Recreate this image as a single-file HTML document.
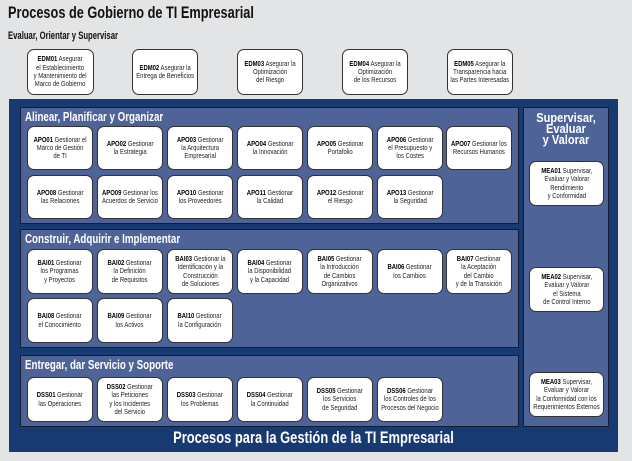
<!DOCTYPE html>
<html><head><meta charset="utf-8"><style>
*{margin:0;padding:0;box-sizing:border-box}
body{width:632px;height:461px;background:#e3e4e6;position:relative;overflow:hidden;font-family:"Liberation Sans",sans-serif}
.a{position:absolute}
.t{font-weight:bold;color:#111;white-space:nowrap;transform-origin:left top}
.box{position:absolute;background:#fff;border:1px solid #333;border-radius:7px;display:flex;align-items:center;justify-content:center;text-align:center;font-size:7.4px;line-height:8.3px;color:#222}
.box>div{white-space:nowrap;transform:scaleX(.8)}
.box b{color:#000}
.outer{left:9px;top:99px;width:609px;height:353px;background:#173a72}
.sec{position:absolute;background:#4e6499;border:1.5px solid #141c33}
.st{position:absolute;left:4px;top:2px;color:#fff;font-weight:bold;font-size:12.5px;white-space:nowrap;transform:scaleX(.78);transform-origin:left top}
</style></head><body>
<div class="a t" style="left:8px;top:3px;font-size:17px;transform:scaleX(.75)">Procesos de Gobierno de TI Empresarial</div>
<div class="a t" style="left:8px;top:30px;font-size:11px;transform:scaleX(.7)">Evaluar, Orientar y Supervisar</div>

<div class="box" style="left:27px;top:49px;width:67px;height:46px"><div><b>EDM01</b> Asegurar<br>el Establecimiento<br>y Mantenimiento del<br>Marco de Gobierno</div></div>
<div class="box" style="left:132px;top:49px;width:66px;height:46px"><div><b>EDM02</b> Asegurar la<br>Entrega de Beneficios</div></div>
<div class="box" style="left:237px;top:49px;width:66px;height:46px"><div><b>EDM03</b> Asegurar la<br>Optimización<br>del Riesgo</div></div>
<div class="box" style="left:342px;top:49px;width:66px;height:46px"><div><b>EDM04</b> Asegurar la<br>Optimización<br>de los Recursos</div></div>
<div class="box" style="left:447px;top:49px;width:66px;height:46px"><div><b>EDM05</b> Asegurar la<br>Transparencia hacia<br>las Partes Interesadas</div></div>

<div class="a outer"></div>
<div class="sec" style="left:20px;top:107px;width:499px;height:117px"><div class="st">Alinear, Planificar y Organizar</div></div>
<div class="sec" style="left:20px;top:229px;width:499px;height:119px"><div class="st">Construir, Adquirir e Implementar</div></div>
<div class="sec" style="left:20px;top:355px;width:499px;height:72px"><div class="st">Entregar, dar Servicio y Soporte</div></div>
<div class="sec" style="left:523px;top:107px;width:86px;height:320px"><div class="a" style="left:-10px;right:-10px;top:4px;text-align:center;color:#fff;font-weight:bold;font-size:13px;line-height:11px;transform:scaleX(.85)">Supervisar,<br>Evaluar<br>y Valorar</div></div>

<div class="box" style="left:27px;top:126px;width:66px;height:44px"><div><b>APO01</b> Gestionar el<br>Marco de Gestión<br>de TI</div></div>
<div class="box" style="left:97px;top:126px;width:66px;height:44px"><div><b>APO02</b> Gestionar<br>la Estrategia</div></div>
<div class="box" style="left:167px;top:126px;width:66px;height:44px"><div><b>APO03</b> Gestionar<br>la Arquitectura<br>Empresarial</div></div>
<div class="box" style="left:237px;top:126px;width:66px;height:44px"><div><b>APO04</b> Gestionar<br>la Innovación</div></div>
<div class="box" style="left:307px;top:126px;width:66px;height:44px"><div><b>APO05</b> Gestionar<br>Portafolio</div></div>
<div class="box" style="left:377px;top:126px;width:66px;height:44px"><div><b>APO06</b> Gestionar<br>el Presupuesto y<br>los Costes</div></div>
<div class="box" style="left:446px;top:126px;width:66px;height:44px"><div><b>APO07</b> Gestionar los<br>Recursos Humanos</div></div>
<div class="box" style="left:27px;top:175px;width:66px;height:44px"><div><b>APO08</b> Gestionar<br>las Relaciones</div></div>
<div class="box" style="left:97px;top:175px;width:66px;height:44px"><div><b>APO09</b> Gestionar los<br>Acuerdos de Servicio</div></div>
<div class="box" style="left:167px;top:175px;width:66px;height:44px"><div><b>APO10</b> Gestionar<br>los Proveedores</div></div>
<div class="box" style="left:237px;top:175px;width:66px;height:44px"><div><b>APO11</b> Gestionar<br>la Calidad</div></div>
<div class="box" style="left:307px;top:175px;width:66px;height:44px"><div><b>APO12</b> Gestionar<br>el Riesgo</div></div>
<div class="box" style="left:377px;top:175px;width:66px;height:44px"><div><b>APO13</b> Gestionar<br>la Seguridad</div></div>

<div class="box" style="left:27px;top:249px;width:66px;height:45px"><div><b>BAI01</b> Gestionar<br>los Programas<br>y Proyectos</div></div>
<div class="box" style="left:97px;top:249px;width:66px;height:45px"><div><b>BAI02</b> Gestionar<br>la Definición<br>de Requisitos</div></div>
<div class="box" style="left:167px;top:249px;width:66px;height:45px"><div><b>BAI03</b> Gestionar la<br>Identificación y la<br>Construcción<br>de Soluciones</div></div>
<div class="box" style="left:237px;top:249px;width:66px;height:45px"><div><b>BAI04</b> Gestionar<br>la Disponibilidad<br>y la Capacidad</div></div>
<div class="box" style="left:307px;top:249px;width:66px;height:45px"><div><b>BAI05</b> Gestionar<br>la Introducción<br>de Cambios<br>Organizativos</div></div>
<div class="box" style="left:377px;top:249px;width:66px;height:45px"><div><b>BAI06</b> Gestionar<br>los Cambios</div></div>
<div class="box" style="left:446px;top:249px;width:66px;height:45px"><div><b>BAI07</b> Gestionar<br>la Aceptación<br>del Cambio<br>y de la Transición</div></div>
<div class="box" style="left:27px;top:298px;width:66px;height:45px"><div><b>BAI08</b> Gestionar<br>el Conocimiento</div></div>
<div class="box" style="left:97px;top:298px;width:66px;height:45px"><div><b>BAI09</b> Gestionar<br>los Activos</div></div>
<div class="box" style="left:167px;top:298px;width:66px;height:45px"><div><b>BAI10</b> Gestionar<br>la Configuración</div></div>

<div class="box" style="left:27px;top:377px;width:66px;height:45px"><div><b>DSS01</b> Gestionar<br>las Operaciones</div></div>
<div class="box" style="left:97px;top:377px;width:66px;height:45px"><div><b>DSS02</b> Gestionar<br>las Peticiones<br>y los Incidentes<br>del Servicio</div></div>
<div class="box" style="left:167px;top:377px;width:66px;height:45px"><div><b>DSS03</b> Gestionar<br>los Problemas</div></div>
<div class="box" style="left:237px;top:377px;width:66px;height:45px"><div><b>DSS04</b> Gestionar<br>la Continuidad</div></div>
<div class="box" style="left:307px;top:377px;width:66px;height:45px"><div><b>DSS05</b> Gestionar<br>los Servicios<br>de Seguridad</div></div>
<div class="box" style="left:377px;top:377px;width:66px;height:45px"><div><b>DSS06</b> Gestionar<br>los Controles de los<br>Procesos del Negocio</div></div>

<div class="box" style="left:529px;top:161px;width:75px;height:45px"><div><b>MEA01</b> Supervisar,<br>Evaluar y Valorar<br>Rendimiento<br>y Conformidad</div></div>
<div class="box" style="left:529px;top:267px;width:75px;height:45px"><div><b>MEA02</b> Supervisar,<br>Evaluar y Valorar<br>el Sistema<br>de Control Interno</div></div>
<div class="box" style="left:529px;top:372px;width:75px;height:45px"><div><b>MEA03</b> Supervisar,<br>Evaluar y Valorar<br>la Conformidad con los<br>Requerimientos Externos</div></div>

<div class="a" style="left:9px;width:609px;top:428px;text-align:center;color:#fff;font-weight:bold;font-size:17px;white-space:nowrap;transform:scaleX(.76)">Procesos para la Gestión de la TI Empresarial</div>
</body></html>
